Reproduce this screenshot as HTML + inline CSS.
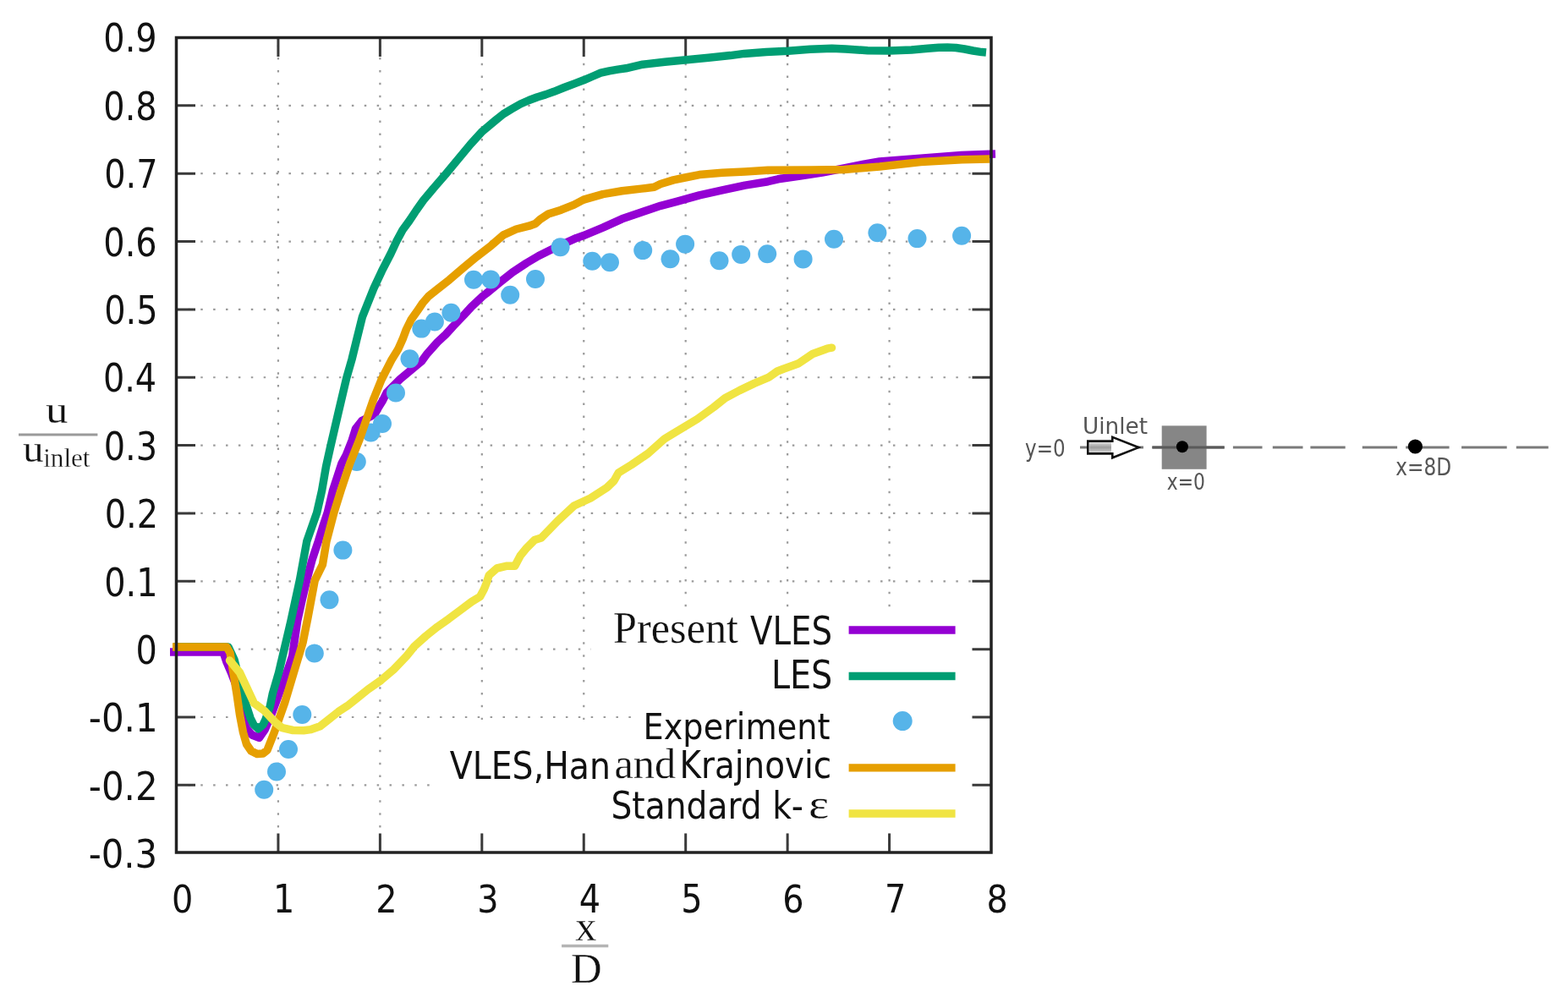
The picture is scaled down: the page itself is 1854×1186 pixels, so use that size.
<!DOCTYPE html><html><head><meta charset="utf-8"><style>html,body{margin:0;padding:0;background:#fff}svg{display:block}</style></head><body>
<svg width="1854" height="1186" viewBox="0 0 1854 1186">
<rect width="1854" height="1186" fill="#fff"/>
<path d="M207.48,124.85H1172.00 M207.48,205.20H1172.00 M207.48,285.55H1172.00 M207.48,365.90H1172.00 M207.48,446.25H1172.00 M207.48,526.60H1172.00 M207.48,606.95H1172.00 M207.48,687.30H1172.00 M207.48,767.65H1172.00 M207.48,848.00H1172.00 M207.48,928.35H1172.00" stroke="#9a9a9a" stroke-width="2.2" stroke-dasharray="2.5 12.385" fill="none"/>
<path d="M328.94,53.19V1008.00 M449.38,53.19V1008.00 M569.82,44.88V1008.00 M690.26,44.88V1008.00 M810.70,44.88V1008.00 M931.14,44.88V1008.00 M1051.58,44.88V1008.00" stroke="#9a9a9a" stroke-width="2.2" stroke-dasharray="2.5 12.385" stroke-dashoffset="0" fill="none"/>
<path d="M699,722H1170V835H699Z M757,835H1170V851H757Z M517,851H1170V985H517Z" fill="#fff"/>
<path d="M208.5,124.85h22.5M1172,124.85h-22.5M208.5,205.20h22.5M1172,205.20h-22.5M208.5,285.55h22.5M1172,285.55h-22.5M208.5,365.90h22.5M1172,365.90h-22.5M208.5,446.25h22.5M1172,446.25h-22.5M208.5,526.60h22.5M1172,526.60h-22.5M208.5,606.95h22.5M1172,606.95h-22.5M208.5,687.30h22.5M1172,687.30h-22.5M208.5,767.65h22.5M1172,767.65h-22.5M208.5,848.00h22.5M1172,848.00h-22.5M208.5,928.35h22.5M1172,928.35h-22.5M328.94,1008v-22.5M328.94,44.5v22.5M449.38,1008v-22.5M449.38,44.5v22.5M569.82,1008v-22.5M569.82,44.5v22.5M690.26,1008v-22.5M690.26,44.5v22.5M810.70,1008v-22.5M810.70,44.5v22.5M931.14,1008v-22.5M931.14,44.5v22.5M1051.58,1008v-22.5M1051.58,44.5v22.5" stroke="#3a3a3a" stroke-width="3" fill="none"/>
<polyline points="201.0,771.0 264.0,771.0 268.0,783.0 274.0,797.0 279.0,810.0 283.5,830.0 287.0,850.0 292.0,862.0 298.0,869.0 306.4,872.4 313.0,863.0 320.0,847.0 326.0,831.0 333.0,812.0 340.0,793.0 345.7,775.8 347.9,760.0 351.6,734.5 357.0,710.0 362.8,685.5 369.0,662.0 376.4,640.0 382.0,622.0 387.3,606.1 393.5,580.0 404.0,548.0 409.4,538.0 416.2,520.7 420.5,507.0 428.0,497.5 437.0,493.0 443.2,489.5 447.2,482.3 452.6,473.5 457.3,464.0 473.0,448.4 498.5,427.2 505.0,418.3 517.3,404.5 527.0,395.5 535.6,386.0 548.3,372.8 557.7,362.5 571.0,350.0 575.0,347.0 590.8,334.0 606.0,322.0 622.6,311.0 637.0,302.5 652.1,295.0 667.0,288.0 681.6,281.4 690.0,278.6 712.8,269.1 735.5,258.8 758.3,250.9 781.1,243.3 800.0,238.3 827.0,230.9 854.0,224.9 880.9,219.1 907.9,214.7 920.0,211.8 946.0,208.0 972.0,204.0 998.0,199.0 1020.0,194.5 1040.0,191.0 1088.5,187.3 1137.0,183.4 1177.0,182.0" fill="none" stroke="#9400d3" stroke-width="9.5" stroke-linejoin="round" stroke-linecap="butt"/>
<polyline points="205.0,765.0 270.0,765.0 277.0,780.0 284.0,808.0 290.5,832.0 296.0,849.0 300.0,857.0 305.6,861.8 311.0,857.0 314.0,850.7 319.3,835.2 322.4,820.0 329.6,795.4 337.9,760.0 343.9,734.5 354.5,685.5 362.8,640.0 374.7,606.1 380.6,580.0 385.5,551.8 390.8,527.9 400.2,487.4 409.7,447.0 416.0,425.0 421.8,401.3 428.5,374.4 433.9,360.9 442.0,340.7 451.5,320.4 462.0,300.0 469.0,285.0 476.0,272.0 483.8,261.4 492.0,249.0 500.5,237.0 514.4,220.5 527.5,205.3 540.0,190.2 556.4,170.5 570.3,155.3 585.0,143.0 595.1,134.9 605.2,128.8 615.3,123.0 625.5,118.5 635.6,114.7 645.0,111.9 655.0,108.3 667.0,103.5 680.0,98.6 690.1,94.8 700.2,90.5 710.3,86.2 720.5,83.9 730.6,82.1 740.0,80.8 760.0,76.2 785.9,73.3 811.8,70.7 837.7,68.2 863.6,65.6 880.0,63.4 905.9,61.5 931.8,60.2 957.7,58.3 983.6,57.2 1000.0,58.0 1025.9,59.8 1051.8,59.9 1077.7,59.0 1097.1,57.3 1110.0,56.2 1120.2,56.0 1130.4,56.5 1140.5,58.0 1150.6,60.0 1160.7,61.6 1166.0,62.1" fill="none" stroke="#009e73" stroke-width="9.5" stroke-linejoin="round" stroke-linecap="butt"/>
<g fill="#56b4e9"><circle cx="312.2" cy="933.8" r="11"/><circle cx="327" cy="912.5" r="11"/><circle cx="341" cy="886" r="11"/><circle cx="357.3" cy="845" r="11"/><circle cx="371.8" cy="772.5" r="11"/><circle cx="389.5" cy="709.3" r="11"/><circle cx="405.4" cy="650.6" r="11"/><circle cx="421.8" cy="546" r="11"/><circle cx="438.5" cy="511.5" r="11"/><circle cx="452" cy="501" r="11"/><circle cx="468" cy="464.5" r="11"/><circle cx="484.5" cy="424.3" r="11"/><circle cx="498.3" cy="388.6" r="11"/><circle cx="513.9" cy="380.5" r="11"/><circle cx="533.4" cy="369.7" r="11"/><circle cx="560" cy="330.7" r="11"/><circle cx="580.2" cy="330.4" r="11"/><circle cx="603.2" cy="348.8" r="11"/><circle cx="633" cy="330" r="11"/><circle cx="662.6" cy="292.2" r="11"/><circle cx="700.3" cy="308.7" r="11"/><circle cx="721" cy="310.3" r="11"/><circle cx="760.2" cy="296.1" r="11"/><circle cx="792.5" cy="306.3" r="11"/><circle cx="810.1" cy="288.7" r="11"/><circle cx="850.5" cy="308.3" r="11"/><circle cx="876.2" cy="300.9" r="11"/><circle cx="907.2" cy="300.2" r="11"/><circle cx="949.6" cy="306.4" r="11"/><circle cx="986" cy="282.8" r="11"/><circle cx="1037.4" cy="275.3" r="11"/><circle cx="1084.5" cy="282.1" r="11"/><circle cx="1137.1" cy="278.7" r="11"/></g>
<polyline points="204.0,765.0 268.0,765.0 272.0,772.0 279.9,820.0 283.5,845.0 287.5,866.0 291.5,880.0 297.0,888.0 304.0,891.5 311.0,891.0 316.0,887.0 324.3,866.0 336.7,830.8 347.3,795.4 358.0,760.0 363.7,731.8 372.2,686.3 381.4,667.7 386.0,640.0 394.9,606.1 403.0,580.0 413.7,548.1 424.5,521.1 433.9,494.2 442.0,471.2 451.0,449.0 463.3,424.9 470.7,413.1 476.0,401.3 480.4,389.5 486.3,377.7 494.6,365.9 500.0,358.0 506.5,350.5 514.3,344.2 531.5,330.7 547.3,317.2 563.5,303.7 581.0,290.2 595.2,277.8 610.4,271.0 625.5,267.2 633.0,264.5 638.5,259.5 648.3,253.1 663.5,248.2 678.7,242.1 690.0,236.1 712.8,229.6 735.5,225.8 758.3,223.1 773.5,221.3 781.1,217.5 796.3,212.9 810.0,210.0 827.0,206.6 854.0,204.3 880.9,202.9 907.9,201.2 959.0,201.0 998.0,200.4 1040.0,197.0 1088.5,191.6 1137.0,188.7 1170.0,187.9" fill="none" stroke="#e69f00" stroke-width="9.5" stroke-linejoin="round" stroke-linecap="butt"/>
<polyline points="271.5,781.0 283.6,795.4 300.4,831.4 312.7,840.5 325.3,854.0 333.7,860.7 346.4,863.5 359.0,863.7 367.8,862.6 378.5,858.8 389.3,850.2 400.1,841.6 410.9,834.6 421.0,826.5 435.2,815.1 450.4,804.5 465.5,791.6 480.7,775.7 490.0,764.2 503.5,752.1 517.0,741.3 530.5,731.8 544.0,721.7 557.5,711.6 567.6,705.5 572.3,696.7 575.0,690.0 578.2,680.3 587.5,672.0 599.6,669.2 608.8,669.2 615.3,657.1 622.8,647.8 632.0,638.6 640.0,636.0 659.4,616.0 678.8,598.0 698.3,589.0 717.7,576.5 726.0,568.5 731.3,559.0 746.8,549.5 766.2,536.3 785.6,519.0 805.0,507.2 824.5,495.5 843.9,481.5 857.3,470.7 874.5,461.6 891.8,453.4 909.0,446.1 919.1,439.0 926.3,436.2 943.6,430.1 960.8,418.5 978.1,412.2 983.5,411.2" fill="none" stroke="#f0e442" stroke-width="9.5" stroke-linejoin="round" stroke-linecap="round"/>
<rect x="208.5" y="44.5" width="963.5" height="963.5" fill="none" stroke="#222" stroke-width="3.5"/>
<line x1="1003.6" y1="745" x2="1129.6" y2="745" stroke="#9400d3" stroke-width="9.3"/>
<line x1="1003.6" y1="799.5" x2="1129.6" y2="799.5" stroke="#009e73" stroke-width="9.3"/>
<line x1="1003.6" y1="907.8" x2="1129.6" y2="907.8" stroke="#e69f00" stroke-width="9.3"/>
<line x1="1003.6" y1="962" x2="1129.6" y2="962" stroke="#f0e442" stroke-width="9.3"/>
<circle cx="1067.2" cy="852.6" r="11.5" fill="#56b4e9"/>
<line x1="22" y1="513.9" x2="115.4" y2="513.9" stroke="#9a9a9a" stroke-width="3"/>
<line x1="664.1" y1="1118.5" x2="719.3" y2="1118.5" stroke="#b4b4b4" stroke-width="3.5"/>
<g stroke="#7a7a7a" stroke-width="3" fill="none"><path d="M1277,529.1H1290 M1342,529.1H1352 M1362.4,529.1H1447.7 M1457.9,529.1H1492.5 M1504.8,529.1H1540.5 M1549.4,529.1H1590.7 M1610.8,529.1H1652.1 M1662.2,529.1H1713.6 M1728.1,529.1H1781.7 M1792.8,529.1H1830.8"/></g>
<rect x="1373.7" y="503.4" width="52.9" height="51.4" fill="#7f7f7f" fill-opacity="0.95"/>
<path d="M1362.4,529.1H1447.7" stroke="#5a5a5a" stroke-width="3"/>
<circle cx="1397.9" cy="528.3" r="7" fill="#000"/>
<circle cx="1673.4" cy="528" r="8.6" fill="#000"/>
<path d="M1286.3,521.6H1315.3V516.8L1346.3,529.1L1315.3,541.3V536.4H1286.3Z" fill="#fff" stroke="#111" stroke-width="2.6" stroke-linejoin="miter"/>
<defs><linearGradient id="sg" x1="0" y1="0" x2="0" y2="1"><stop offset="0" stop-color="#dadada"/><stop offset="0.5" stop-color="#9c9c9c"/><stop offset="1" stop-color="#cfcfcf"/></linearGradient></defs>
<rect x="1288.2" y="523.2" width="25.8" height="11.6" fill="url(#sg)"/>
<text transform="translate(122.34,61.10) scale(0.4427,0.4587)" font-family="DejaVu Sans" font-stretch="condensed" font-size="100" fill="#111">0.9</text>
<text transform="translate(104.74,1025.50) scale(0.4640,0.4587)" font-family="DejaVu Sans" font-stretch="condensed" font-size="100" fill="#111">-0.3</text>
<text transform="translate(122.34,142.05) scale(0.4427,0.4587)" font-family="DejaVu Sans" font-stretch="condensed" font-size="100" fill="#111">0.8</text>
<text transform="translate(123.23,222.40) scale(0.4427,0.4587)" font-family="DejaVu Sans" font-stretch="condensed" font-size="100" fill="#111">0.7</text>
<text transform="translate(122.34,302.75) scale(0.4427,0.4587)" font-family="DejaVu Sans" font-stretch="condensed" font-size="100" fill="#111">0.6</text>
<text transform="translate(123.23,383.10) scale(0.4427,0.4587)" font-family="DejaVu Sans" font-stretch="condensed" font-size="100" fill="#111">0.5</text>
<text transform="translate(121.90,463.45) scale(0.4427,0.4587)" font-family="DejaVu Sans" font-stretch="condensed" font-size="100" fill="#111">0.4</text>
<text transform="translate(122.79,543.80) scale(0.4427,0.4587)" font-family="DejaVu Sans" font-stretch="condensed" font-size="100" fill="#111">0.3</text>
<text transform="translate(123.67,624.15) scale(0.4427,0.4587)" font-family="DejaVu Sans" font-stretch="condensed" font-size="100" fill="#111">0.2</text>
<text transform="translate(123.23,704.50) scale(0.4427,0.4587)" font-family="DejaVu Sans" font-stretch="condensed" font-size="100" fill="#111">0.1</text>
<text transform="translate(160.42,784.85) scale(0.4427,0.4587)" font-family="DejaVu Sans" font-stretch="condensed" font-size="100" fill="#111">0</text>
<text transform="translate(104.73,865.20) scale(0.4669,0.4587)" font-family="DejaVu Sans" font-stretch="condensed" font-size="100" fill="#111">-0.1</text>
<text transform="translate(104.73,945.55) scale(0.4669,0.4587)" font-family="DejaVu Sans" font-stretch="condensed" font-size="100" fill="#111">-0.2</text>
<text transform="translate(202.88,1079.00) scale(0.4427,0.4467)" font-family="DejaVu Sans" font-stretch="condensed" font-size="100" fill="#111">0</text>
<text transform="translate(322.88,1079.00) scale(0.4427,0.4589)" font-family="DejaVu Sans" font-stretch="condensed" font-size="100" fill="#111">1</text>
<text transform="translate(444.20,1079.00) scale(0.4427,0.4527)" font-family="DejaVu Sans" font-stretch="condensed" font-size="100" fill="#111">2</text>
<text transform="translate(564.20,1079.00) scale(0.4427,0.4527)" font-family="DejaVu Sans" font-stretch="condensed" font-size="100" fill="#111">3</text>
<text transform="translate(684.86,1079.00) scale(0.4427,0.4589)" font-family="DejaVu Sans" font-stretch="condensed" font-size="100" fill="#111">4</text>
<text transform="translate(805.30,1079.00) scale(0.4427,0.4589)" font-family="DejaVu Sans" font-stretch="condensed" font-size="100" fill="#111">5</text>
<text transform="translate(925.30,1079.00) scale(0.4427,0.4527)" font-family="DejaVu Sans" font-stretch="condensed" font-size="100" fill="#111">6</text>
<text transform="translate(1045.96,1079.00) scale(0.4427,0.4589)" font-family="DejaVu Sans" font-stretch="condensed" font-size="100" fill="#111">7</text>
<text transform="translate(1166.40,1079.00) scale(0.4427,0.4467)" font-family="DejaVu Sans" font-stretch="condensed" font-size="100" fill="#111">8</text>
<text transform="translate(53.97,499.90) scale(0.5277,0.4696)" font-family="Liberation Serif" font-stretch="normal" font-size="100" fill="#111" stroke="#fff" stroke-width="0.60">u</text>
<text transform="translate(27.01,546.30) scale(0.4936,0.4696)" font-family="Liberation Serif" font-stretch="normal" font-size="100" fill="#111" stroke="#fff" stroke-width="0.62">u</text>
<text transform="translate(51.18,551.70) scale(0.3114,0.3145)" font-family="Liberation Serif" font-stretch="normal" font-size="100" fill="#111" stroke="#fff" stroke-width="0.96">inlet</text>
<text transform="translate(680.30,1112.20) scale(0.5042,0.5130)" font-family="Liberation Serif" font-stretch="normal" font-size="100" fill="#111" stroke="#fff" stroke-width="0.59">x</text>
<text transform="translate(675.08,1161.80) scale(0.5077,0.5138)" font-family="Liberation Serif" font-stretch="normal" font-size="100" fill="#111" stroke="#fff" stroke-width="0.59">D</text>
<text transform="translate(725.09,760.10) scale(0.5027,0.5262)" font-family="Liberation Serif" font-stretch="normal" font-size="100" fill="#111" stroke="#fff" stroke-width="0.58">Present</text>
<text transform="translate(887.07,761.60) scale(0.4300,0.4560)" font-family="DejaVu Sans" font-stretch="condensed" font-size="100" fill="#111">VLES</text>
<text transform="translate(911.93,814.00) scale(0.4413,0.4653)" font-family="DejaVu Sans" font-stretch="condensed" font-size="100" fill="#111">LES</text>
<text transform="translate(760.58,873.70) scale(0.4250,0.4316)" font-family="DejaVu Sans" font-stretch="condensed" font-size="100" fill="#111">Experiment</text>
<text transform="translate(531.86,920.50) scale(0.4379,0.4453)" font-family="DejaVu Sans" font-stretch="condensed" font-size="100" fill="#111">VLES,Han</text>
<text transform="translate(726.49,919.50) scale(0.5036,0.5159)" font-family="Liberation Serif" font-stretch="normal" font-size="100" fill="#111" stroke="#fff" stroke-width="0.59">and</text>
<text transform="translate(803.51,919.50) scale(0.4322,0.4408)" font-family="DejaVu Sans" font-stretch="condensed" font-size="100" fill="#111">Krajnovic</text>
<text transform="translate(722.49,968.00) scale(0.4357,0.4368)" font-family="DejaVu Sans" font-stretch="condensed" font-size="100" fill="#111">Standard k-</text>
<text transform="translate(955.99,968.30) scale(0.5771,0.5043)" font-family="Liberation Serif" font-stretch="normal" font-size="100" fill="#111" stroke="#fff" stroke-width="0.55">ε</text>
<text transform="translate(1212.03,539.70) scale(0.2559,0.2827)" font-family="DejaVu Sans" font-stretch="condensed" font-size="100" fill="#555">y=0</text>
<text transform="translate(1279.96,512.50) scale(0.2925,0.2592)" font-family="DejaVu Sans" font-stretch="condensed" font-size="100" fill="#555">Uinlet</text>
<text transform="translate(1379.77,579.00) scale(0.2429,0.2733)" font-family="DejaVu Sans" font-stretch="condensed" font-size="100" fill="#555">x=0</text>
<text transform="translate(1650.23,561.50) scale(0.2579,0.2840)" font-family="DejaVu Sans" font-stretch="condensed" font-size="100" fill="#555">x=8D</text>
</svg></body></html>
